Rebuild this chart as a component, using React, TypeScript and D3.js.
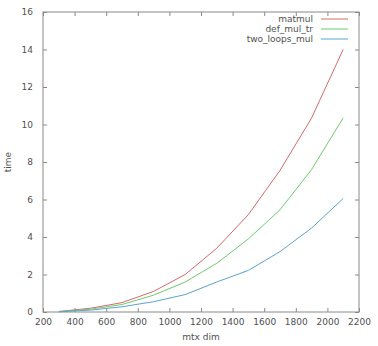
import React, { useEffect, useRef } from 'react';
import * as d3 from 'd3';

// matrix dimension sizes
const dims = [300, 500, 700, 900, 1100, 1300, 1500, 1700, 1900, 2100];
const matmul = [0.03, 0.2, 0.5, 1.1, 2.0, 3.4, 5.2, 7.55, 10.35, 14.0];
const defMulTr = [0.02, 0.15, 0.4, 0.9, 1.6, 2.6, 3.9, 5.45, 7.6, 10.35];
const twoLoopsMul = [0.01, 0.1, 0.28, 0.55, 0.93, 1.6, 2.22, 3.22, 4.48, 6.05];
const seriesNames = ['matmul', 'def_mul_tr', 'two_loops_mul'];
const seriesColors = ['#d46a6a', '#6ccc6c', '#5aa3d2'];
const xTicks = [200, 400, 600, 800, 1000, 1200, 1400, 1600, 1800, 2000, 2200];
const yTicks = [0, 2, 4, 6, 8, 10, 12, 14, 16];

const App = () => {
  const svgRef = useRef<SVGSVGElement>(null);

  useEffect(() => {
    const svg = d3.select(svgRef.current);
    svg.selectAll('*').remove();

    const width = 378;
    const height = 346;
    const margin = { top: 12, right: 19, bottom: 34, left: 43 };

    const x = d3.scaleLinear().domain([200, 2200]).range([margin.left, width - margin.right]);
    const y = d3.scaleLinear().domain([0, 16]).range([height - margin.bottom, margin.top]);

    const axisColor = '#8a8a8a';
    const textColor = '#505050';
    const font = 'DejaVu Sans, sans-serif';
    const fs = 9;

    const styleAxis = (g: any) => {
      g.select('.domain').remove();
      g.selectAll('line').attr('stroke', axisColor);
      g.selectAll('text').attr('fill', textColor).attr('font-family', font).attr('font-size', fs);
    };

    // bottom axis with labels, ticks pointing inward
    svg.append('g')
      .attr('transform', `translate(0,${y(0)})`)
      .call(d3.axisBottom(x).tickValues(xTicks).tickFormat(d3.format('d')).tickSizeInner(-4).tickSizeOuter(0).tickPadding(7))
      .call(styleAxis);

    // top mirror ticks
    svg.append('g')
      .attr('transform', `translate(0,${y(16)})`)
      .call(d3.axisTop(x).tickValues(xTicks).tickFormat(() => '').tickSizeInner(-4).tickSizeOuter(0))
      .call(styleAxis);

    // left axis
    svg.append('g')
      .attr('transform', `translate(${x(200)},0)`)
      .call(d3.axisLeft(y).tickValues(yTicks).tickFormat(d3.format('d')).tickSizeInner(-4).tickSizeOuter(0).tickPadding(10))
      .call(styleAxis);

    // right mirror ticks
    svg.append('g')
      .attr('transform', `translate(${x(2200)},0)`)
      .call(d3.axisRight(y).tickValues(yTicks).tickFormat(() => '').tickSizeInner(-4).tickSizeOuter(0))
      .call(styleAxis);

    // frame
    svg.append('rect')
      .attr('x', x(200))
      .attr('y', y(16))
      .attr('width', x(2200) - x(200))
      .attr('height', y(0) - y(16))
      .attr('fill', 'none')
      .attr('stroke', axisColor);

    const line = d3.line<number>()
      .x((_, i) => x(dims[i]))
      .y(d => y(d));

    [matmul, defMulTr, twoLoopsMul].forEach((vals, i) => {
      svg.append('path')
        .datum(vals)
        .attr('d', line)
        .attr('fill', 'none')
        .attr('stroke', seriesColors[i])
        .attr('stroke-width', 1);
    });

    // legend
    seriesNames.forEach((name, i) => {
      const ly = 19 + i * 10;
      svg.append('text')
        .attr('x', 313)
        .attr('y', ly)
        .attr('dy', '0.35em')
        .attr('text-anchor', 'end')
        .attr('fill', textColor)
        .attr('font-family', font)
        .attr('font-size', fs)
        .text(name);
      svg.append('line')
        .attr('x1', 321)
        .attr('x2', 348)
        .attr('y1', ly)
        .attr('y2', ly)
        .attr('stroke', seriesColors[i]);
    });

    // axis labels
    svg.append('text')
      .attr('x', (x(200) + x(2200)) / 2)
      .attr('y', 340)
      .attr('text-anchor', 'middle')
      .attr('fill', textColor)
      .attr('font-family', font)
      .attr('font-size', fs)
      .text('mtx dim');

    svg.append('text')
      .attr('transform', `translate(11,${(y(0) + y(16)) / 2}) rotate(-90)`)
      .attr('text-anchor', 'middle')
      .attr('fill', textColor)
      .attr('font-family', font)
      .attr('font-size', fs)
      .text('time');
  }, []);

  return (
    <svg ref={svgRef} width={378} height={346} style={{ position: 'absolute', left: 0, top: 0, background: '#fff' }} />
  );
};

export default App;
